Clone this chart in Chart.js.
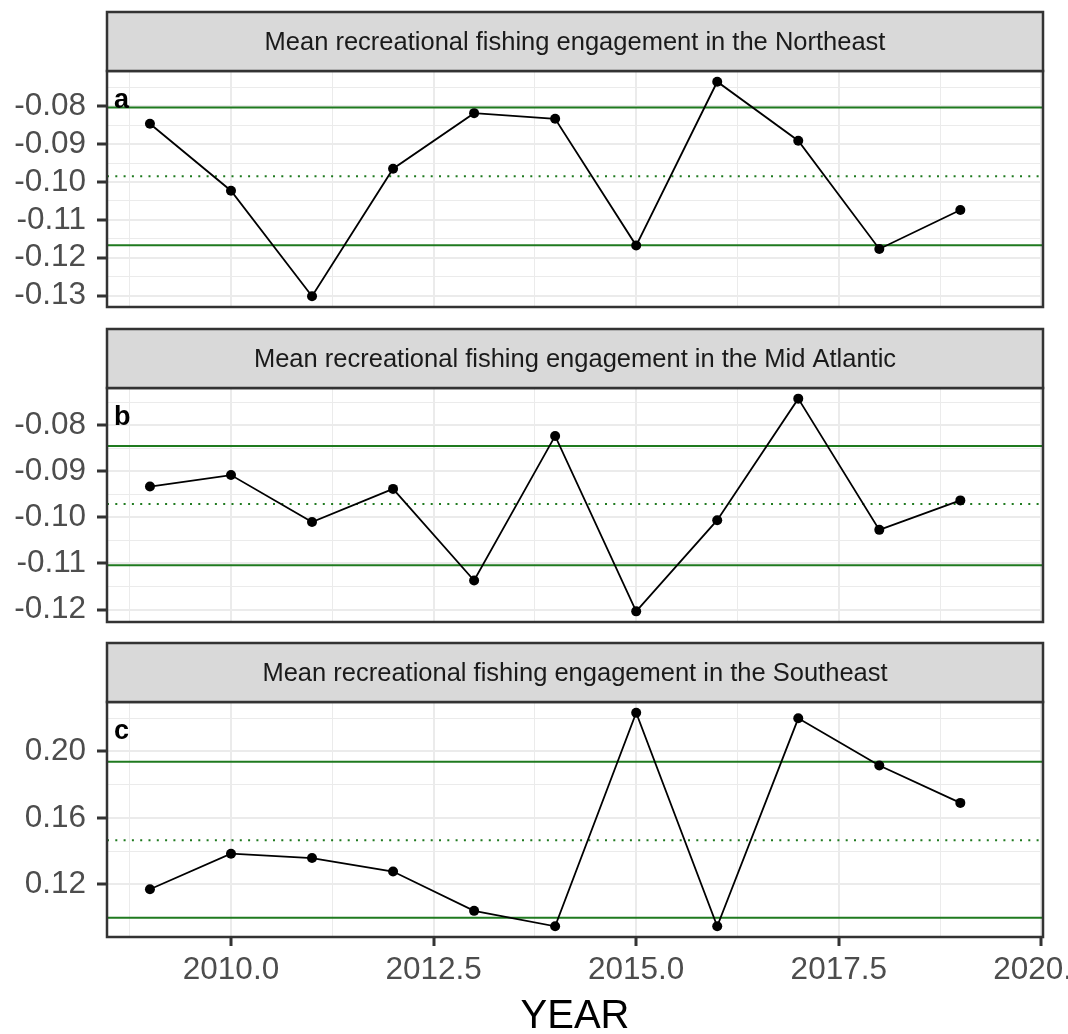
<!DOCTYPE html>
<html>
<head>
<meta charset="utf-8">
<title>Mean recreational fishing engagement</title>
<script src="https://cdn.jsdelivr.net/npm/chart.js@4.4.1/dist/chart.umd.min.js"></script>
<style>
  body { margin: 0; background: #fff; }
  #wrap { position: relative; width: 1068px; height: 1034px; overflow: hidden; }
  canvas { position: absolute; left: 0; }
</style>
</head>
<body>
<div id="wrap">
  <canvas id="panelA" width="1068" height="320" style="top:0px"></canvas>
  <canvas id="panelB" width="1068" height="314" style="top:320px"></canvas>
  <canvas id="panelC" width="1068" height="403" style="top:634px"></canvas>
</div>
<script>
// data
const years = [2009, 2010, 2011, 2012, 2013, 2014, 2015, 2016, 2017, 2018, 2019];
const northeast = [-0.0846, -0.1023, -0.1302, -0.0965, -0.0818, -0.0833, -0.1168, -0.0735, -0.0891, -0.1177, -0.1074];
const midAtlantic = [-0.0933, -0.0908, -0.1010, -0.0938, -0.1137, -0.0823, -0.1204, -0.1006, -0.0742, -0.1027, -0.0963];
const southeast = [0.1170, 0.1384, 0.1358, 0.1277, 0.1040, 0.0947, 0.2233, 0.0947, 0.2199, 0.1915, 0.1690];

// reference lines: upper, mean (dotted), lower
const northeastRef = [-0.0803, -0.0985, -0.1167];
const midAtlanticRef = [-0.0845, -0.0971, -0.1104];
const southeastRef = [0.1937, 0.1465, 0.0998];

// tick labels
const xTicks = [2010, 2012.5, 2015, 2017.5, 2020];
const yTicksNE = [-0.13, -0.12, -0.11, -0.10, -0.09, -0.08];
const yTicksMA = [-0.12, -0.11, -0.10, -0.09, -0.08];
const yTicksSE = [0.12, 0.16, 0.20];

const xLimits = [2008.47, 2020.02];

const FONT = '"Liberation Sans", Arial, Helvetica, sans-serif';
const STRIP_H = 59;
const GREEN = '#1f7a1f';

function withMinor(majors, min, max) {
  const step = majors[1] - majors[0];
  const all = [majors[0] - step / 2];
  majors.forEach(m => { all.push(m); all.push(m + step / 2); });
  return all.filter(v => v >= min - 1e-9 && v <= max + 1e-9);
}

function isMajor(v, majors) {
  return majors.some(m => Math.abs(m - v) < 1e-9);
}

// strip header, panel border and panel letter
const stripPlugin = {
  id: 'strip',
  afterDraw(chart, args, opts) {
    const { ctx, chartArea: a } = chart;
    const w = a.right - a.left;
    ctx.save();
    ctx.strokeStyle = '#333333';
    ctx.lineWidth = 2.5;
    ctx.strokeRect(a.left, a.top, w, a.bottom - a.top);
    const top = a.top - STRIP_H;
    ctx.fillStyle = '#D9D9D9';
    ctx.fillRect(a.left, top, w, STRIP_H);
    ctx.strokeRect(a.left, top, w, STRIP_H);
    ctx.fillStyle = '#1A1A1A';
    ctx.font = '25.5px ' + FONT;
    ctx.textAlign = 'center';
    ctx.textBaseline = 'middle';
    ctx.fillText(opts.title, (a.left + a.right) / 2, top + STRIP_H / 2 + 1);
    ctx.fillStyle = '#000000';
    ctx.font = 'bold 27px ' + FONT;
    ctx.textAlign = 'left';
    ctx.textBaseline = 'alphabetic';
    ctx.fillText(opts.letter, a.left + 7, a.top + 37);
    ctx.restore();
  }
};

function refLine(value, dotted) {
  return {
    data: [{ x: xLimits[0], y: value }, { x: xLimits[1], y: value }],
    borderColor: GREEN,
    borderWidth: 2,
    borderDash: dotted ? [2, 6.3] : [],
    pointRadius: 0,
    fill: false
  };
}

function makePanel(canvasId, values, ref, yTicks, title, letter, padTop, padBottom, showX) {
  const lo = Math.min(...values), hi = Math.max(...values);
  const pad = (hi - lo) * 0.05;
  const yMin = lo - pad, yMax = hi + pad;

  return new Chart(document.getElementById(canvasId), {
    type: 'line',
    data: {
      datasets: [
        {
          data: years.map((yr, i) => ({ x: yr, y: values[i] })),
          borderColor: '#000000',
          borderWidth: 1.8,
          pointRadius: 5,
          pointBackgroundColor: '#000000',
          pointBorderWidth: 0,
          tension: 0,
          fill: false
        },
        refLine(ref[0], false),
        refLine(ref[1], true),
        refLine(ref[2], false)
      ]
    },
    options: {
      responsive: false,
      animation: false,
      layout: { padding: { top: padTop, bottom: padBottom, left: 0, right: 25 } },
      plugins: {
        legend: { display: false },
        tooltip: { enabled: false },
        strip: { title: title, letter: letter }
      },
      scales: {
        x: {
          type: 'linear',
          min: xLimits[0],
          max: xLimits[1],
          border: { display: false },
          afterBuildTicks(scale) {
            scale.ticks = withMinor(xTicks, xLimits[0], xLimits[1]).map(v => ({ value: v }));
          },
          afterFit(scale) {
            scale.height = showX ? 100 : 0;
            scale.paddingLeft = 0;
            scale.paddingRight = 0;
          },
          grid: {
            color: '#EBEBEB',
            lineWidth: ctx => isMajor(ctx.tick.value, xTicks) ? 2 : 1,
            drawTicks: true,
            tickLength: 9,
            tickWidth: 3,
            tickColor: ctx => (showX && isMajor(ctx.tick.value, xTicks)) ? '#333333' : 'rgba(0,0,0,0)'
          },
          ticks: {
            display: showX,
            autoSkip: false,
            maxRotation: 0,
            padding: 5,
            color: '#4D4D4D',
            font: { family: FONT, size: 31.5 },
            callback: v => isMajor(v, xTicks) ? v.toFixed(1) : ''
          },
          title: {
            display: showX,
            text: 'YEAR',
            color: '#000000',
            padding: 0,
            font: { family: FONT, size: 40, lineHeight: 1 }
          }
        },
        y: {
          type: 'linear',
          min: yMin,
          max: yMax,
          border: { display: false },
          afterBuildTicks(scale) {
            scale.ticks = withMinor(yTicks, yMin, yMax).map(v => ({ value: v }));
          },
          afterFit(scale) {
            scale.width = 107;
            scale.paddingTop = 0;
            scale.paddingBottom = 0;
          },
          grid: {
            color: '#EBEBEB',
            lineWidth: ctx => isMajor(ctx.tick.value, yTicks) ? 2 : 1,
            tickLength: 10,
            tickWidth: 3,
            tickColor: ctx => isMajor(ctx.tick.value, yTicks) ? '#333333' : 'rgba(0,0,0,0)'
          },
          ticks: {
            autoSkip: false,
            padding: 11,
            color: '#4D4D4D',
            font: { family: FONT, size: 31.5 },
            callback: v => isMajor(v, yTicks) ? v.toFixed(2) : ''
          }
        }
      }
    },
    plugins: [stripPlugin]
  });
}

makePanel('panelA', northeast, northeastRef, yTicksNE,
  'Mean recreational fishing engagement in the Northeast', 'a', 71, 13, false);
makePanel('panelB', midAtlantic, midAtlanticRef, yTicksMA,
  'Mean recreational fishing engagement in the Mid Atlantic', 'b', 68, 12, false);
makePanel('panelC', southeast, southeastRef, yTicksSE,
  'Mean recreational fishing engagement in the Southeast', 'c', 68, 0, true);
</script>
</body>
</html>
